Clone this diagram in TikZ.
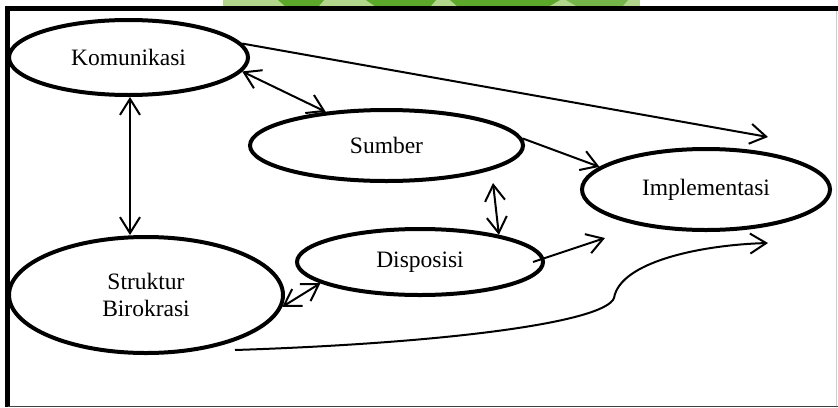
\documentclass[tikz,border=0pt]{standalone}
\usepackage{fontspec}
\setmainfont{Liberation Serif}
\usetikzlibrary{shapes.geometric,arrows.meta}

\definecolor{leafdark}{RGB}{92,168,42}
\definecolor{leaflight}{RGB}{178,214,140}

\begin{document}
\begin{tikzpicture}[x=0.5pt,y=-0.5pt,
  oval/.style={ellipse, draw, line width=2pt, inner sep=0pt,
    font=\fontsize{11.75}{13.5}\selectfont, align=center},
  link/.style={line width=1pt},
  onearrow/.style={-{Straight Barb[length=8pt,width=10pt]}},
  biarrow/.style={{Straight Barb[length=8pt,width=10pt]}-{Straight Barb[length=8pt,width=10pt]}},
]
\useasboundingbox (0,0) rectangle (838,407);

% green logo, cut off by the frame
\begin{scope}
  \clip (0,0) rectangle (838,7);
  \fill[leaflight] (223,0) rectangle (640,7);
  \fill[leafdark] (278,0) -- (324,0) -- (318,7) -- (286,7) -- cycle;
  \fill[leafdark] (366,0) -- (436,0) -- (430,7) -- (376,7) -- cycle;
  \fill[leafdark] (450,0) -- (560,0) -- (548,7) -- (458,7) -- cycle;
  \fill[leafdark!85] (566,0) -- (628,0) -- (622,7) -- (578,7) -- cycle;
\end{scope}

% frame
\draw[line width=2.5pt] (5,8.5) -- (838,8.5);
\draw[line width=2.5pt] (7.5,6) -- (7.5,407);
\draw[black!20, line width=0.6pt] (836.8,11) -- (836.8,406);
\draw[black!75, line width=0.6pt] (7.5,406.2) -- (838,406.2);

% factors
\node[oval, minimum width=119.5pt, minimum height=37.5pt] (kom) at (128.5,57.5) {Komunikasi};
\node[oval, minimum width=136.5pt, minimum height=35.5pt] (sum) at (386.5,145.5) {Sumber};
\node[oval, minimum width=124pt, minimum height=40.5pt] (imp) at (706,189.5) {Implementasi};
\node[oval, minimum width=123pt, minimum height=33pt] (disp) at (420,262) {Disposisi};
\node[oval, minimum width=137pt, minimum height=58pt] (str) at (146,295) {Struktur\\Birokrasi};

% free ends of connectors
\coordinate (kimp) at (768,137);
\coordinate (sdtop) at (493,183);
\coordinate (dimp) at (605,238);
\coordinate (scurve) at (235,350);
\coordinate (kink) at (614,298);
\coordinate (simp) at (768,243);

% relations
\draw[link,biarrow] ([xshift=0.75pt]kom.south) -- ([xshift=0.75pt]kom.south |- str.north);
\draw[link,biarrow] (kom.-7.4) -- (sum.151.9);
\draw[link,onearrow] (kom.7.7) -- (kimp);
\draw[link,onearrow] (sum.3.1) -- (imp.168.4);
\draw[link,biarrow] (sdtop) -- (disp.19.9);
\draw[link,onearrow] ([xshift=-6pt]disp.east) -- (dimp);
\draw[link,biarrow] (str.-5) -- (disp.192.4);
\draw[link,onearrow] (scurve) .. controls (450,343) and (605,322) .. (kink)
  .. controls (620,262) and (700,245) .. (simp);
\end{tikzpicture}
\end{document}
